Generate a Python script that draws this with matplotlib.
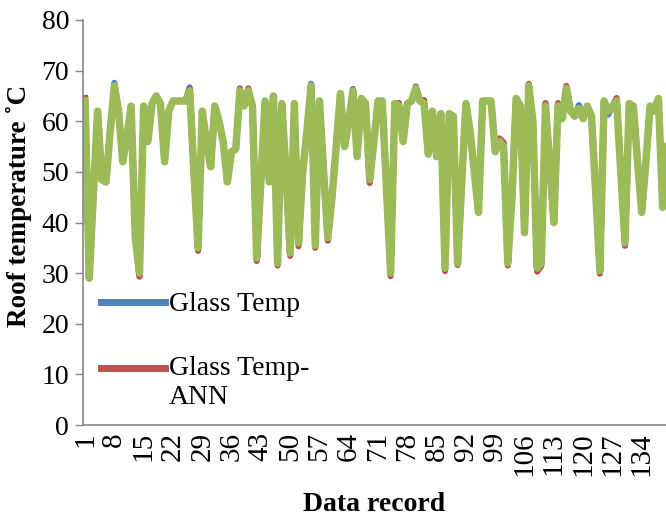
import numpy as np
import matplotlib
matplotlib.use("Agg")
import matplotlib.pyplot as plt
from matplotlib.lines import Line2D
from matplotlib.legend_handler import HandlerLine2D

# roof temperature records (green series, drawn on top)
records = list(range(1, 141))
roof_temp = [
    64, 29, 46, 62, 48.5, 48, 58, 67, 62, 52,
    57, 63, 37, 30, 63, 56, 63.5, 65, 63.5, 52,
    62, 64, 64, 64, 64, 66, 50, 35, 62, 56,
    51, 63, 60, 56, 48, 54, 54.5, 66, 63, 66,
    63, 33, 48, 64, 48, 65, 32, 63.5, 50, 34,
    63.5, 36, 50, 58, 67, 35.5, 64, 50, 37, 45,
    55, 65.5, 55, 60, 66, 53, 64.5, 63.5, 48.5, 56,
    64, 64, 47, 30, 63.5, 63, 56, 63.5, 64, 66.5,
    64, 63.5, 53.5, 62, 53, 61.5, 31, 61.5, 61, 32,
    48, 63.5, 58, 50, 42, 64, 64, 64, 54, 56,
    55, 32, 45, 64.5, 63, 38, 67, 60, 31, 32,
    63, 52, 40, 63, 60.5, 66.5, 62, 61, 62.5, 60.5,
    63, 61, 46, 30.5, 64, 62, 63, 64, 50, 36,
    63.5, 63, 52, 42, 52, 63, 62, 64.5, 43, 55,
]

# points where the blue / red lines peek out from under the green one
glass_temp_diff = {8: 67.6, 26: 66.7, 55: 67.4, 65: 66.4, 80: 66.9,
                   119: 63.2, 125: 63.4, 126: 61.3, 137: 62.8}
glass_ann_diff = {1: 64.6, 14: 29.3, 26: 66.4, 28: 34.4, 38: 66.5, 40: 66.5,
                  42: 32.4, 47: 31.5, 50: 33.4, 52: 35.3, 56: 35.0, 59: 36.4,
                  69: 47.8, 74: 29.4, 76: 63.6, 82: 64.2, 87: 30.4, 90: 31.6,
                  100: 56.6, 101: 55.8, 102: 31.5, 107: 67.4, 109: 30.3,
                  110: 31.4, 111: 63.6, 114: 63.6, 116: 67.0, 124: 29.9,
                  128: 64.6, 130: 35.4}

glass_temp = [glass_temp_diff.get(r, v) for r, v in zip(records, roof_temp)]
glass_ann = [glass_ann_diff.get(r, v) for r, v in zip(records, roof_temp)]

blue = '#4F81BD'
red = '#C0504D'
green = '#9BBB59'
grey = '#868686'


class FirstLineHandler(HandlerLine2D):
    # put the legend line level with the first line of a two-line label
    def __init__(self, shift, **kw):
        super().__init__(**kw)
        self.shift = shift

    def create_artists(self, legend, orig_handle, xdescent, ydescent,
                       width, height, fontsize, trans):
        arts = super().create_artists(legend, orig_handle, xdescent, ydescent,
                                      width, height, fontsize, trans)
        for a in arts:
            a.set_ydata([y + self.shift * fontsize for y in a.get_ydata()])
        return arts


plt.rcParams['font.family'] = ['Liberation Serif', 'DejaVu Serif']

fig = plt.figure(figsize=(6.66, 5.19), dpi=100)
ax = fig.add_axes([0.1246, 0.181, 0.8754, 0.7805])

ax.plot(records, glass_temp, color=blue, lw=4.4, solid_joinstyle='round')
ax.plot(records, glass_ann, color=red, lw=4.4, solid_joinstyle='round')
ax.plot(records, roof_temp, color=green, lw=5.4, solid_joinstyle='round')

ax.set_xlim(0.5, 139.8)
ax.set_ylim(0, 80)
ax.set_yticks(np.arange(0, 81, 10))
ax.set_xticks(records[::7])
ax.set_xticklabels([str(r) for r in records[::7]], rotation=90)

ax.tick_params(axis='y', labelsize=20, length=6, color=grey, width=1, pad=4)
ax.tick_params(axis='x', labelsize=21, length=0, pad=5)
for side in ['top', 'right']:
    ax.spines[side].set_visible(False)
for side in ['left', 'bottom']:
    ax.spines[side].set_color(grey)
    ax.spines[side].set_linewidth(1.2)

ax.set_xlabel('Data record', fontsize=20, fontweight='bold', labelpad=12)
ax.set_ylabel('Roof temperature ˚C', fontsize=19.5, fontweight='bold')
ax.yaxis.set_label_coords(-0.088, 0.54)

handles = [Line2D([], [], color=blue, lw=5), Line2D([], [], color=red, lw=5)]
ax.legend(handles, ['Glass Temp', 'Glass Temp-\nANN'], loc='lower left',
          bbox_to_anchor=(-0.012, -0.025), frameon=False, fontsize=20,
          handlelength=2.3, handletextpad=0.15, labelspacing=1.4,
          handler_map={handles[1]: FirstLineHandler(0.55)})

fig.savefig('out.png', dpi=100)
